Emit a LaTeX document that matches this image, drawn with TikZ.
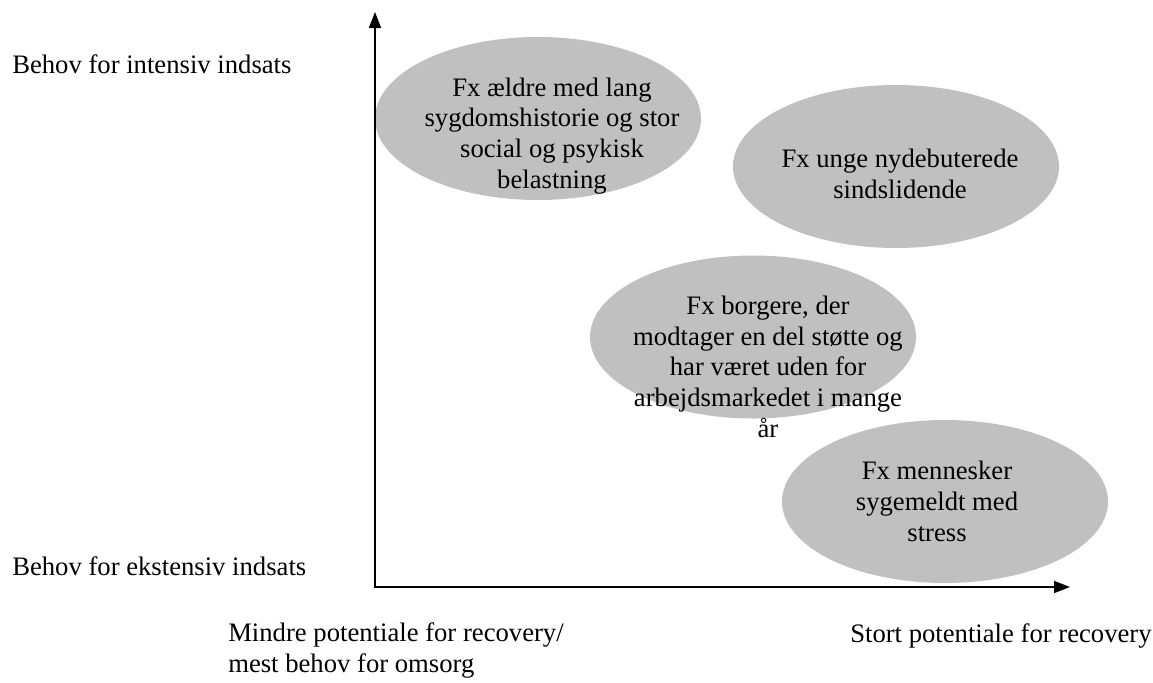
\documentclass[tikz,border=0pt]{standalone}
\usepackage{fontspec}
\setmainfont{Liberation Serif}
\usetikzlibrary{shapes.geometric,arrows.meta}
\definecolor{blobgray}{RGB}{192,192,192}
\begin{document}
\begin{tikzpicture}[x=0.75pt,y=-0.75pt,
  blob/.style={ellipse, fill=blobgray, draw=none, minimum width=244.5pt, minimum height=122.25pt, inner sep=0pt},
  lbl/.style={font=\fontsize{20}{23}\selectfont, inner sep=0pt},
  blobtext/.style={lbl, align=center, anchor=base},
  axisline/.style={line width=1.2pt, {Triangle[length=12pt,width=9pt]}-{Triangle[length=12pt,width=9pt]}}]
\useasboundingbox (0,0) rectangle (1153,682);
% ellipses
\node[blob] (e1) at (538,118.5) {};
\node[blob] (e2) at (896,166.5) {};
\node[blob] (e3) at (753,337) {};
\node[blob] (e4) at (945,501.5) {};
% texts in ellipses (anchored at the baseline of the last line)
\node[blobtext] (t1) at (552,188) {Fx ældre med lang\\sygdomshistorie og stor\\social og psykisk\\belastning};
\node[blobtext] (t2) at (900,198) {Fx unge nydebuterede\\sindslidende};
\node[blobtext] (t3) at (768,437) {Fx borgere, der\\modtager en del støtte og\\har været uden for\\arbejdsmarkedet i mange\\år};
\node[blobtext] (t4) at (937,541) {Fx mennesker\\sygemeldt med\\stress};
% axes
\coordinate (ytip) at (375,12);
\coordinate (origin) at (375,587);
\coordinate (xtip) at (1070,587);
\draw[axisline] (ytip) -- (origin) -- (xtip);
% axis labels
\node[lbl, anchor=base west] (yhigh) at (12,73) {Behov for intensiv indsats};
\node[lbl, anchor=base west] (ylow) at (12,575) {Behov for ekstensiv indsats};
\node[lbl, anchor=base west, align=left] (xlow) at (228,672) {Mindre potentiale for recovery/\\mest behov for omsorg};
\node[lbl, anchor=base west] (xhigh) at (850,642) {Stort potentiale for recovery};
\end{tikzpicture}
\end{document}
